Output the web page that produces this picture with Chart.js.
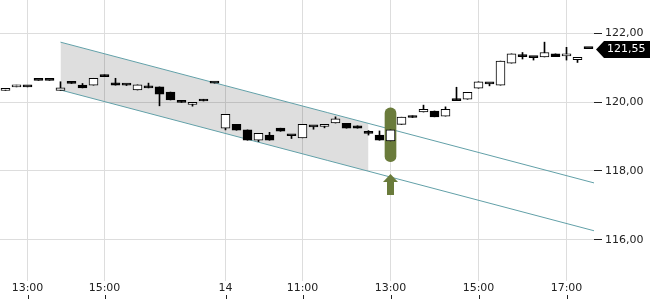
<!DOCTYPE html>
<html><head><meta charset="utf-8">
<script src="https://cdn.jsdelivr.net/npm/chart.js@4"></script>
<style>html,body{margin:0;padding:0;background:#fff;overflow:hidden}#wrap{width:650px;height:300px}</style>
</head><body><div id="wrap"><canvas id="c" width="650" height="300"></canvas></div>
<script>
// ---- data (15-min candles, index = candle position) ----
const opens  = [120.34,120.44,120.44,120.63,120.63,120.34,120.60,120.49,120.49,120.74,
                120.56,120.50,120.35,120.47,120.44,120.29,120.04,119.93,120.08,120.55,
                119.24,119.35,119.19,118.89,119.04,119.24,119.02,118.96,119.28,119.29,
                119.39,119.38,119.31,119.09,119.04,118.87,119.35,119.60,119.71,119.74,
                119.59,120.07,120.08,120.40,120.53,120.49,121.13,121.32,121.29,121.31,
                121.40,121.34,121.23,121.55];
const highs  = [120.39,120.49,120.44,120.63,120.63,120.59,120.60,120.54,120.69,120.79,
                120.69,120.51,120.50,120.55,120.44,120.29,120.04,119.98,120.08,120.55,
                119.64,119.35,119.19,119.09,119.12,119.24,119.02,119.35,119.28,119.35,
                119.57,119.38,119.31,119.17,119.16,119.19,119.56,119.60,119.91,119.74,
                119.86,120.43,120.28,120.59,120.53,121.19,121.40,121.44,121.29,121.74,
                121.40,121.59,121.30,121.55];
const lows   = [120.34,120.44,120.44,120.63,120.63,120.34,120.54,120.41,120.49,120.74,
                120.49,120.48,120.35,120.41,119.89,120.06,119.99,119.88,120.03,120.55,
                119.19,119.18,118.89,118.85,118.89,119.15,118.94,118.96,119.21,119.25,
                119.39,119.24,119.24,119.04,118.89,118.87,119.35,119.55,119.71,119.57,
                119.59,120.04,120.08,120.40,120.47,120.49,121.13,121.25,121.22,121.31,
                121.32,121.22,121.15,121.55];
const closes = [120.39,120.49,120.44,120.63,120.63,120.41,120.54,120.41,120.69,120.74,
                120.49,120.49,120.50,120.41,120.23,120.06,119.99,119.98,120.03,120.55,
                119.64,119.18,118.89,119.09,118.89,119.15,119.02,119.35,119.28,119.35,
                119.51,119.24,119.24,119.09,118.89,119.19,119.56,119.55,119.79,119.57,
                119.79,120.04,120.28,120.59,120.53,121.19,121.40,121.32,121.29,121.44,
                121.32,121.40,121.30,121.55];

const xTickIdx    = [2, 9, 20, 27, 35, 43, 51];
const xTickLabels = ['13:00','15:00','14','11:00','13:00','15:00','17:00'];
const yTicks      = [116, 118, 120, 122];

// trend channel (x = candle index, y = price)
const channelUpperX = [5, 53.5];
const channelUpperY = [121.74, 117.65];
const channelLowerX = [5, 53.5];
const channelLowerY = [120.35, 116.26];
// shaded part of the channel
const shadeX      = [5, 33];
const shadeUpperY = [121.74, 119.38];
const shadeLowerY = [120.35, 117.99];

// signal marker
const signalIndex = 35;
const signalBand  = [118.27, 119.83];
const arrowTip = 117.91, arrowHeadBase = 117.68, arrowBottom = 117.30;

const lastPrice = 121.55;
const lastPriceLabel = '121,55';

// ---- build chart ----
const GREEN = '#6a7b3b';
const TEAL = '#62a0a8';
const idx = opens.map((_, i) => i);
const bodies = idx.map(i => ({x: i, y: [opens[i], closes[i]]}));
const wicks  = idx.map(i => ({x: i, y: [lows[i], highs[i]]}));
const bodyFill = idx.map(i => closes[i] > opens[i] ? '#ffffff' : '#000000');
const pts = (xs, ys) => xs.map((x, i) => ({x, y: ys[i]}));

Chart.defaults.font.family = "'DejaVu Sans', sans-serif";
Chart.defaults.font.size = 11;
Chart.defaults.color = '#222';

const extras = {
  id: 'extras',
  afterDatasetsDraw(chart) {
    const {ctx, scales: {x, y}} = chart;
    const cx = x.getPixelForValue(signalIndex);
    const t = y.getPixelForValue(arrowTip), b = y.getPixelForValue(arrowHeadBase), bt = y.getPixelForValue(arrowBottom);
    ctx.save();
    ctx.fillStyle = GREEN;
    ctx.beginPath();
    ctx.moveTo(cx, t); ctx.lineTo(cx + 7.5, b); ctx.lineTo(cx + 3.5, b); ctx.lineTo(cx + 3.5, bt);
    ctx.lineTo(cx - 3.5, bt); ctx.lineTo(cx - 3.5, b); ctx.lineTo(cx - 7.5, b); ctx.closePath();
    ctx.fill();
    ctx.restore();
  },
  afterDraw(chart) {
    const {ctx, chartArea, scales: {x, y}} = chart;
    ctx.save();
    // x tick marks below labels
    ctx.strokeStyle = '#222'; ctx.lineWidth = 1;
    x.ticks.forEach(tk => {
      const px = Math.round(x.getPixelForValue(tk.value)) + 0.5;
      ctx.beginPath(); ctx.moveTo(px, chart.height - 5); ctx.lineTo(px, chart.height - 1); ctx.stroke();
    });
    // last price tag
    const py = Math.round(y.getPixelForValue(lastPrice)) + 0.5;
    const l = chartArea.right + 2;
    ctx.fillStyle = '#000';
    ctx.beginPath();
    ctx.moveTo(l, py); ctx.lineTo(l + 8, py - 8.5); ctx.lineTo(chart.width, py - 8.5);
    ctx.lineTo(chart.width, py + 8.5); ctx.lineTo(l + 8, py + 8.5); ctx.closePath(); ctx.fill();
    ctx.fillStyle = '#fff';
    ctx.font = "11px 'DejaVu Sans', sans-serif";
    ctx.textBaseline = 'middle'; ctx.textAlign = 'left';
    ctx.fillText(lastPriceLabel, l + 11, py);
    ctx.restore();
  }
};

new Chart(document.getElementById('c'), {
  type: 'bar',
  data: {
    datasets: [
      {type: 'line', data: pts(shadeX, shadeUpperY), borderWidth: 0, pointRadius: 0, fill: '+1',
       backgroundColor: 'rgba(0,0,0,0.13)', order: 6},
      {type: 'line', data: pts(shadeX, shadeLowerY), borderWidth: 0, pointRadius: 0, fill: false, order: 6},
      {type: 'line', data: pts(channelUpperX, channelUpperY), borderColor: TEAL, borderWidth: 1, pointRadius: 0, fill: false, order: 5},
      {type: 'line', data: pts(channelLowerX, channelLowerY), borderColor: TEAL, borderWidth: 1, pointRadius: 0, fill: false, order: 5},
      {type: 'bar', data: [{x: signalIndex, y: signalBand}], backgroundColor: GREEN, barThickness: 11,
       borderRadius: 6, borderSkipped: false, grouped: false, order: 3},
      {type: 'bar', data: wicks, backgroundColor: '#000', barThickness: 1, borderWidth: 0, grouped: false, order: 2},
      {type: 'bar', data: bodies, backgroundColor: bodyFill, borderColor: '#000', borderWidth: 1,
       borderSkipped: false, barThickness: 9, minBarLength: 2, grouped: false, order: 1}
    ]
  },
  options: {
    responsive: false, animation: false, devicePixelRatio: 1,
    layout: {padding: 0},
    plugins: {legend: {display: false}, tooltip: {enabled: false}, filler: {drawTime: 'beforeDatasetsDraw'}},
    scales: {
      x: {
        type: 'linear', min: -0.5, max: 53.5, offset: false,
        grid: {color: '#dddddd', drawTicks: false, offset: false},
        border: {display: false},
        ticks: {autoSkip: false, maxRotation: 0, padding: 1, color: '#222',
                callback: v => { const k = xTickIdx.indexOf(v); return k >= 0 ? xTickLabels[k] : ''; }},
        afterBuildTicks: s => { s.ticks = xTickIdx.map(v => ({value: v})); },
        afterFit: s => { s.height = 19; s.paddingLeft = 0; s.paddingRight = 0; }
      },
      y: {
        type: 'linear', position: 'right', min: 114.8, max: 122.965,
        grid: {color: '#dddddd', tickColor: '#222', tickLength: 8},
        border: {display: false},
        ticks: {padding: 3, color: '#222', callback: v => v.toFixed(2).replace('.', ',')},
        afterBuildTicks: s => { s.ticks = yTicks.map(v => ({value: v})); },
        afterFit: s => { s.width = 56; s.paddingTop = 0; s.paddingBottom = 0; }
      }
    }
  },
  plugins: [extras]
});
</script>
</body></html>
